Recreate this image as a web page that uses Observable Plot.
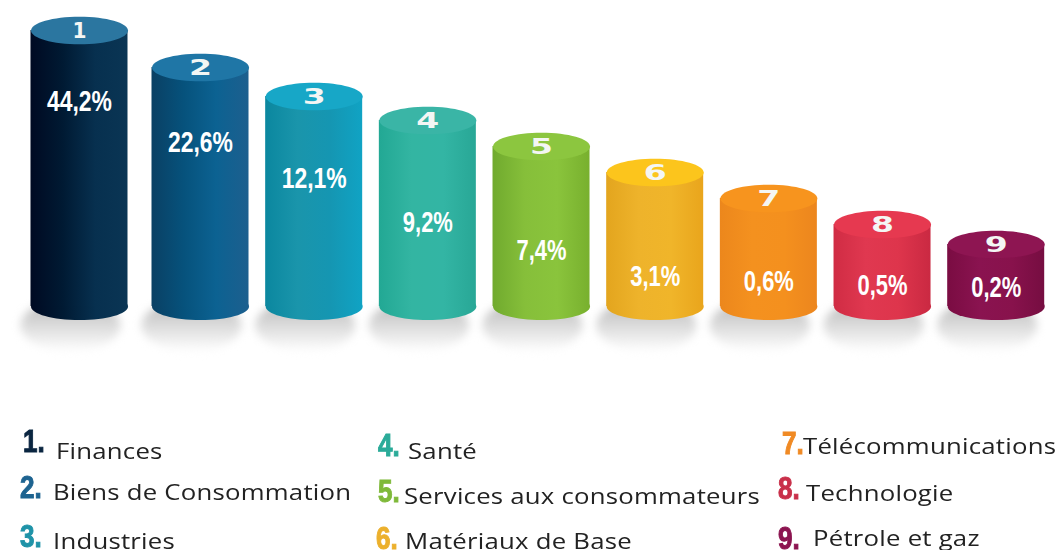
<!DOCTYPE html>
<html lang="fr">
<head>
<meta charset="utf-8">
<script src="https://cdn.jsdelivr.net/npm/d3@7"></script>
<script src="https://cdn.jsdelivr.net/npm/@observablehq/plot@0.6"></script>
<style>
html,body{margin:0;padding:0;background:#fff;width:1057px;height:550px;overflow:hidden}
#chart{position:absolute;left:0;top:0}
#chart svg{display:block;background:transparent}
.num,.lab{position:absolute;white-space:nowrap;transform-origin:left center}
.num{font:bold 31px/23px "Liberation Sans",sans-serif;-webkit-text-stroke:1px currentColor;transform:scaleX(.84)}
.lab{font:400 22px/18px "Open Sans",sans-serif;color:#222;letter-spacing:.2px;transform:scaleX(1.17)}
.n1{left:23px;top:430px}.t1{left:56px;top:440.5px}
.n2{left:20px;top:476px}.t2{left:53px;top:481.5px}
.n3{left:20px;top:525px}.t3{left:53px;top:530.5px}
.n4{left:378px;top:434px}.t4{left:408px;top:440.5px}
.n5{left:378px;top:480px}.t5{left:404px;top:485.5px}
.n6{left:376px;top:527px}.t6{left:405px;top:530.5px}
.n7{left:782px;top:432px}.t7{left:803px;top:435.5px}
.n8{left:778px;top:477px}.t8{left:806px;top:482.5px}
.n9{left:778px;top:527px}.t9{left:813px;top:527.5px}
</style>
</head>
<body>
<div id="chart"></div>
<div id="legend"></div>
<script>
// Data
const ranks = [1, 2, 3, 4, 5, 6, 7, 8, 9];
const categories = ["Finances", "Biens de Consommation", "Industries", "Santé", "Services aux consommateurs", "Matériaux de Base", "Télécommunications", "Technologie", "Pétrole et gaz"];
const shareLabels = ["44,2%", "22,6%", "12,1%", "9,2%", "7,4%", "3,1%", "0,6%", "0,5%", "0,2%"];
// Drawn height of each cylinder and of its percentage label (the picture is not to scale)
const drawnHeights = [276, 239, 210, 186, 160, 134, 108, 82, 62];
const labelHeights = [205, 164, 128, 84, 56, 30, 25, 21, 19];
const sideColors = [
  ["#000a22", "#001a33", "#07304f", "#0a3554"],
  ["#0a4064", "#06527c", "#0c6292", "#1d5f8e"],
  ["#0b879f", "#1a95ab", "#1596b2", "#10a3c4"],
  ["#22a894", "#33b5a2", "#33b5a4", "#28a796"],
  ["#70aa2e", "#86bf3a", "#8ac43c", "#78b02e"],
  ["#e3a51e", "#eeb32b", "#f0b52a", "#e9a51c"],
  ["#ec871c", "#f4911f", "#f4901e", "#ec861e"],
  ["#d02c44", "#e03850", "#de354c", "#ca2942"],
  ["#7a0c42", "#8a1350", "#88124c", "#760d41"]
];
const topColors = ["#2b76a0", "#1f76a6", "#17a7c7", "#3ab5a6", "#8cc63f", "#fcc51c", "#f7941e", "#e63950", "#8e1552"];
const legendColors = ["#0a2540", "#1d6390", "#1f93a8", "#2bab99", "#7fb93a", "#ecb02c", "#f08a24", "#c9304a", "#8c1450"];

const table = ranks.map((rank, i) => ({rank, height: drawnHeights[i], labelHeight: labelHeights[i], share: shareLabels[i]}));

// Half the width of a cylinder, in rank units
const halfWidth = 0.4267;

// Flattened circle used for the cylinder ends and their shadow
const ellipseSymbol = (squash) => ({
  draw(ctx, size) {
    const rx = Math.sqrt(size / Math.PI), ry = rx * squash, k = 0.5523;
    ctx.moveTo(rx, 0);
    ctx.bezierCurveTo(rx, k * ry, k * rx, ry, 0, ry);
    ctx.bezierCurveTo(-k * rx, ry, -rx, k * ry, -rx, 0);
    ctx.bezierCurveTo(-rx, -k * ry, -k * rx, -ry, 0, -ry);
    ctx.bezierCurveTo(k * rx, -ry, rx, -k * ry, rx, 0);
    ctx.closePath();
  }
});

const gradients = () => {
  const defs = d3.create("svg:defs");
  sideColors.forEach((stops, i) => {
    const g = defs.append("linearGradient").attr("id", `side${i + 1}`);
    stops.forEach((c, j) => g.append("stop").attr("offset", j / (stops.length - 1)).attr("stop-color", c));
  });
  const s = defs.append("linearGradient").attr("id", "shadow").attr("x1", 0).attr("y1", 0).attr("x2", 0).attr("y2", 1);
  s.append("stop").attr("offset", 0).attr("stop-color", "#b4b4b4");
  s.append("stop").attr("offset", 0.45).attr("stop-color", "#d8d8d8");
  s.append("stop").attr("offset", 1).attr("stop-color", "#ffffff");
  return defs.node();
};

const blurred = (px) => (index, scales, values, dims, context, next) => {
  const g = next(index, scales, values, dims, context);
  g.style.filter = `blur(${px}px)`;
  return g;
};
// Squeeze or widen the glyphs of a text mark to the lengths given by the function
const fitted = (lengthOf) => (index, scales, values, dims, context, next) => {
  const g = next(index, scales, values, dims, context);
  d3.select(g).selectAll("text").each(function () {
    d3.select(this).attr("textLength", lengthOf(this.textContent)).attr("lengthAdjust", "spacingAndGlyphs");
  });
  return g;
};

const plot = Plot.plot({
  width: 1057,
  height: 400,
  margin: 0,
  x: {type: "linear", domain: [1 - halfWidth, 1 + halfWidth, 2 - halfWidth, 9 + halfWidth], range: [30.5, 127.5, 151.5, 1044.2], axis: null},
  y: {type: "linear", domain: [0, 306], range: [306, 0], axis: null},
  marks: [
    gradients,
    Plot.dot(table, {x: "rank", y: () => 0, dx: -9, dy: 19, r: 50, symbol: ellipseSymbol(0.52), fill: "url(#shadow)", render: blurred(4)}),
    ...table.flatMap((d) => [
      Plot.dot([d], {x: "rank", y: () => 0, r: 48.5, symbol: ellipseSymbol(0.28), fill: `url(#side${d.rank})`}),
      Plot.rectY([d], {x1: (r) => r.rank - halfWidth, x2: (r) => r.rank + halfWidth, y1: () => 0, y2: "height", fill: `url(#side${d.rank})`}),
      Plot.dot([d], {x: "rank", y: "height", r: 48.5, symbol: ellipseSymbol(0.285), fill: topColors[d.rank - 1]})
    ]),
    Plot.text(table, {x: "rank", y: "height", text: (d) => String(d.rank), fill: "#f4f6f4", fontFamily: "DejaVu Sans", fontWeight: 700, fontSize: 22, render: fitted((t) => (t === "1" ? 14 : 23))}),
    Plot.text(table, {x: "rank", y: "labelHeight", text: "share", fill: "#ffffff", fontFamily: "Liberation Sans, sans-serif", fontWeight: 700, fontSize: 30, render: fitted((t) => (t.length === 5 ? 65 : 50))})
  ]
});
document.getElementById("chart").append(plot);

// Legend below the cylinders
const legend = d3.select("#legend");
ranks.forEach((rank, i) => {
  legend.append("span").attr("class", `num n${rank}`).style("color", legendColors[i]).text(`${rank}.`);
  legend.append("span").attr("class", `lab t${rank}`).text(categories[i]);
});
</script>
</body>
</html>
